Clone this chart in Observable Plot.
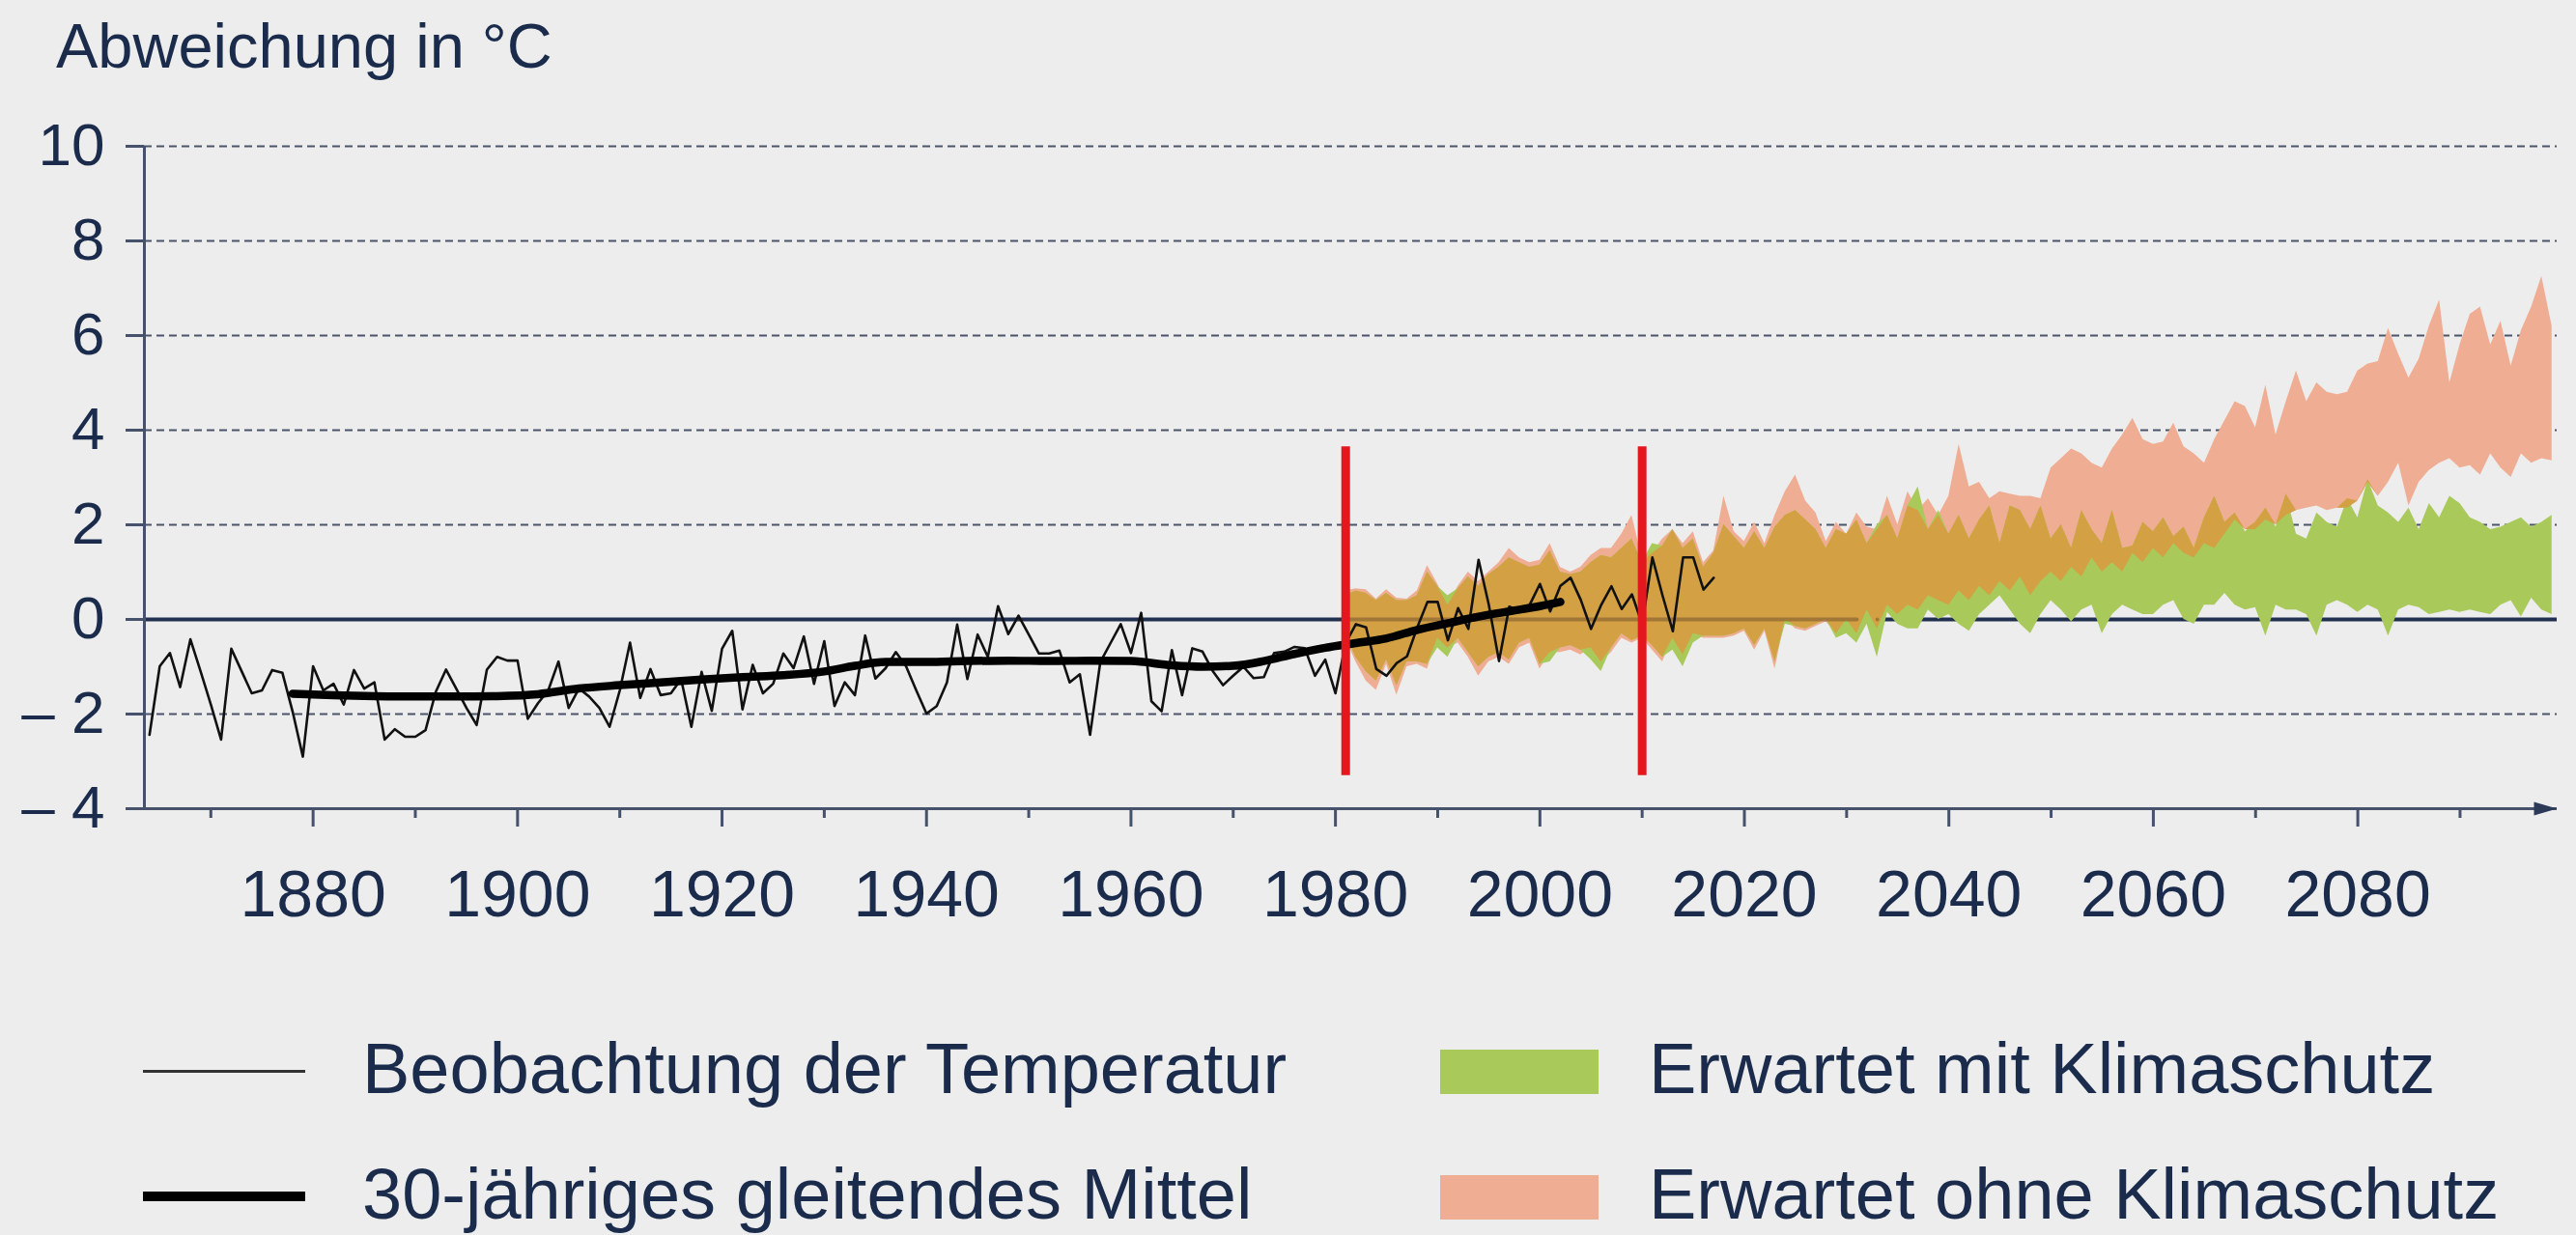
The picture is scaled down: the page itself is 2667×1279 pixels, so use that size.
<!DOCTYPE html>
<html><head><meta charset="utf-8">
<script src="https://cdn.jsdelivr.net/npm/d3@7"></script>
<script src="https://cdn.jsdelivr.net/npm/@observablehq/plot@0.6"></script>
<style>
html,body{margin:0;padding:0;background:#ededed;}
#page{position:relative;width:2667px;height:1279px;background:#ededed;font-family:"Liberation Sans",Arial,sans-serif;color:#1a2b4c;overflow:hidden}
.t{position:absolute;white-space:nowrap;line-height:1}
.sw{position:absolute}
#chart{position:absolute;left:0;top:100px}
</style></head><body><div id="page"><div id="chart"></div></div>
<script>
// ---------- data ----------
const titleText = "Abweichung in °C";
const obsStart = 1864;
const obsValues = [
 -2.44,-0.99,-0.71,-1.43,-0.42,-1.10,-1.80,-2.54,-0.62,-1.09,-1.56,-1.50,-1.07,-1.13,-1.95,-2.90,
 -0.99,-1.50,-1.36,-1.80,-1.07,-1.46,-1.33,-2.54,-2.32,-2.48,-2.48,-2.34,-1.53,-1.06,-1.46,-1.87,-2.23,-1.06,-0.79,-0.87,
 -0.87,-2.10,-1.77,-1.50,-0.89,-1.87,-1.46,-1.63,-1.87,-2.27,-1.50,-0.49,-1.66,-1.05,-1.60,-1.56,-1.26,-2.27,-1.11,-1.93,
 -0.62,-0.24,-1.90,-0.96,-1.56,-1.36,-0.72,-1.03,-0.36,-1.36,-0.46,-1.83,-1.33,-1.60,-0.34,-1.25,-1.03,-0.69,-0.99,-1.50,
 -1.99,-1.83,-1.33,-0.11,-1.26,-0.32,-0.79,0.28,-0.31,0.08,-0.32,-0.72,-0.72,-0.66,-1.33,-1.16,-2.44,-0.90,-0.50,-0.10,
 -0.71,0.14,-1.73,-1.94,-0.65,-1.60,-0.61,-0.68,-1.09,-1.39,-1.19,-1.00,-1.24,-1.22,-0.71,-0.68,-0.58,-0.61,-1.19,-0.85,
 -1.56,-0.50,-0.10,-0.17,-1.05,-1.19,-0.92,-0.78,-0.17,0.37,0.37,-0.44,0.24,-0.20,1.26,0.31,-0.88,0.27,0.17,0.31,
 0.75,0.17,0.71,0.88,0.41,-0.20,0.31,0.70,0.22,0.53,-0.10,1.31,0.50,-0.25,1.31,1.31,0.63,0.88
];
const maYears  = [1878,1882,1886,1890,1894,1898,1902,1906,1910,1914,1918,1922,1926,1930,1933,1936,1940,1944,1948,1952,1956,1960,1964,1967,1970,1973,1976,1979,1982,1985,1988,1991,1994,1997,2000,2002];
const maValues = [-1.57,-1.60,-1.62,-1.63,-1.63,-1.62,-1.58,-1.46,-1.39,-1.33,-1.27,-1.22,-1.18,-1.10,-0.98,-0.90,-0.90,-0.88,-0.87,-0.88,-0.87,-0.88,-0.97,-1.00,-0.98,-0.88,-0.73,-0.60,-0.50,-0.40,-0.22,-0.08,0.06,0.17,0.28,0.37];

const projStart = 1981;
const ohneHi = [
 0.60,0.65,0.63,0.43,0.63,0.45,0.43,0.60,1.14,0.75, 0.30,0.70,1.00,0.80,1.00,1.20,1.50,1.30,1.20,1.25,
 1.60,1.10,1.00,1.10,1.35,1.50,1.50,1.80,2.20,1.30, 1.40,1.70,1.90,1.60,1.85,1.20,1.45,2.60,1.85,1.65,
 2.05,1.60,2.20,2.70,3.05,2.50,2.25,1.65,2.05,
 1.80,2.25,1.95,1.90,2.60,2.00,2.70,2.30,2.55,2.20, 2.60,3.70,2.80,2.90,2.55,2.70,2.65,2.60,2.60,2.55,
 3.20,3.40,3.60,3.50,3.30,3.20,3.60,3.90,4.25,3.80, 3.70,3.75,4.15,3.65,3.50,3.30,3.80,4.20,4.60,4.50,
 4.05,4.95,3.90,4.60,5.25,4.60,5.00,4.80,4.75,4.80, 5.25,5.40,5.45,6.15,5.60,5.10,5.50,6.20,6.75,5.00,
 5.80,6.45,6.60,5.80,6.30,5.35,6.10,6.60,7.25,6.20
];
const ohneLo = [
 -0.40,-0.90,-1.30,-1.50,-0.95,-1.60,-1.00,-0.95,-1.05,-0.40, -0.60,-0.50,-0.80,-1.20,-0.90,-0.80,-0.95,-0.60,-0.50,-1.05,
 -0.70,-0.70,-0.65,-0.75,-0.60,-0.90,-0.70,-0.40,-0.50,-0.40, -0.65,-0.90,-0.40,-0.75,-0.30,-0.40,-0.40,-0.40,-0.35,-0.25,
 -0.65,-0.25,-1.05,0.00,-0.20,-0.25,-0.15,-0.05,-0.30,
 0.00,-0.30,0.20,-0.20,0.30,0.10,0.30,0.20,0.50,0.40, 0.30,0.60,0.40,0.70,0.50,0.80,0.60,0.90,0.50,0.80,
 1.00,0.80,1.10,0.90,1.30,1.00,1.20,1.00,1.40,1.20, 1.50,1.30,1.60,1.40,1.30,1.60,1.50,1.80,2.10,1.90,
 1.90,2.10,2.00,2.20,2.30,2.35,2.40,2.30,2.35,2.35, 2.50,2.90,2.60,2.90,3.30,2.40,2.90,3.15,3.30,3.40,
 3.20,3.25,3.05,3.50,3.20,3.00,3.50,3.30,3.40,3.35
];
const mitHi = [
 0.50,0.60,0.55,0.40,0.55,0.40,0.40,0.50,1.00,0.70, 0.50,0.65,0.90,0.70,0.95,1.10,1.30,1.20,1.10,1.15,
 1.45,1.00,0.95,1.00,1.20,1.35,1.30,1.50,1.70,1.20, 1.60,1.55,1.90,1.50,1.70,1.10,1.40,2.00,1.75,1.50,
 1.85,1.50,1.95,2.20,2.30,2.10,1.90,1.50,1.90,
 1.80,2.10,1.60,2.00,2.20,1.70,2.40,2.80,1.90,2.30, 1.80,2.20,1.70,2.10,2.40,1.60,2.40,2.30,1.90,2.40,
 1.70,2.00,1.50,2.30,1.90,1.60,2.30,1.50,1.55,2.05, 1.85,2.15,1.75,1.95,1.50,2.15,2.60,2.05,2.25,1.85,
 2.05,2.35,1.95,2.65,1.80,1.70,2.25,2.05,1.95,2.55, 2.15,2.95,2.40,2.25,2.05,2.35,1.90,2.45,2.15,2.60,
 2.45,2.15,2.05,1.90,1.95,2.05,2.15,1.95,2.05,2.20
];
const mitLo = [
 -0.30,-0.80,-1.10,-1.30,-0.85,-1.40,-0.90,-0.90,-0.95,-0.60, -0.80,-0.40,-0.70,-1.00,-0.80,-0.70,-0.85,-0.50,-0.40,-0.95,
 -0.90,-0.60,-0.55,-0.65,-0.85,-1.10,-0.60,-0.30,-0.45,-0.35, -0.55,-0.80,-0.65,-1.00,-0.50,-0.35,-0.35,-0.35,-0.30,-0.20,
 -0.55,-0.20,-0.90,-0.10,-0.15,-0.20,-0.10,0.00,-0.40,
 -0.30,-0.50,-0.10,-0.80,0.15,-0.10,-0.20,-0.20,0.20,0.00, 0.10,-0.10,-0.25,0.10,0.30,0.50,0.20,-0.10,-0.30,0.10,
 0.40,0.20,-0.05,0.20,0.30,-0.30,0.10,0.30,0.20,0.10, 0.10,0.30,0.40,0.00,-0.10,0.30,0.30,0.55,0.30,0.20,
 0.25,-0.35,0.30,0.20,0.20,0.10,-0.35,0.30,0.40,0.30, 0.15,0.30,0.20,-0.35,0.20,0.30,0.25,0.10,0.15,0.20,
 0.15,0.20,0.15,0.10,0.30,0.40,0.05,0.45,0.20,0.10
];
const refYears = [1981, 2010];          // red reference-period markers
const refSpan  = [-3.3, 3.65];
const yTicks = [-4, -2, 0, 2, 4, 6, 8, 10];
const gridTicks = [-2, 2, 4, 6, 8, 10];
const xLabelYears = [1880, 1900, 1920, 1940, 1960, 1980, 2000, 2020, 2040, 2060, 2080];
const xMinorYears = [1870, 1890, 1910, 1930, 1950, 1970, 1990, 2010, 2030, 2050, 2070, 2090];
const xDomain = [1863.5, 2099.5];
const yDomain = [-4, 10];
const legendLines = [
  {label: "Beobachtung der Temperatur", width: 3, color: "#333"},
  {label: "30-jähriges gleitendes Mittel", width: 10, color: "#000"}
];
const legendAreas = [
  {label: "Erwartet mit Klimaschutz", color: "#a9c95b"},
  {label: "Erwartet ohne Klimaschutz", color: "#efae94"}
];

// ---------- tables ----------
const navy = "#1a2b4c", axisCol = "#46526b";
const cGreen = "#a9c95b", cSalmon = "#efad93", cOchre = "#d3a144";
const obs = obsValues.map((v, i) => ({year: obsStart + i, v}));
const ma = maYears.map((y, i) => ({year: y, v: maValues[i]}));
const proj = ohneHi.map((h, i) => {
  const lo = Math.max(ohneLo[i], mitLo[i]);
  const hi = Math.min(h, mitHi[i]);
  return {year: projStart + i, oh: h, ol: ohneLo[i], mh: mitHi[i], ml: mitLo[i],
          cl: lo, ch: Math.max(lo, hi)};
});
const arrowHead = {draw(ctx) { ctx.moveTo(0, 0); ctx.lineTo(-24, -7); ctx.lineTo(-24, 7); ctx.closePath(); }};

const chart = Plot.plot({
  width: 2667, height: 900,
  marginLeft: 149, marginRight: 20, marginTop: 51, marginBottom: 163,
  x: {domain: xDomain},
  y: {domain: yDomain},
  style: {fontFamily: "'Liberation Sans', Arial, sans-serif", color: navy, background: "transparent", overflow: "visible"},
  marks: [
    Plot.ruleY(gridTicks, {x1: xDomain[0], x2: xDomain[1], stroke: "#4b5569", strokeWidth: 2.2, strokeDasharray: "8,5"}),
    Plot.ruleY([0], {x1: xDomain[0], x2: xDomain[1], stroke: "#22304f", strokeWidth: 4}),
    Plot.areaY(proj, {x: "year", y1: "ol", y2: "oh", fill: cSalmon}),
    Plot.areaY(proj, {x: "year", y1: "ml", y2: "mh", fill: cGreen}),
    Plot.areaY(proj, {x: "year", y1: "cl", y2: "ch", fill: cOchre}),
    // zero line glimpsed through the overlap band
    Plot.lineY(proj, {x: "year", y: d => (d.ch > d.cl && d.cl <= 0 && d.ch >= 0) ? 0 : NaN, stroke: "#8a6530", strokeOpacity: 0.7, strokeWidth: 4}),
    Plot.ruleY([-4], {x1: xDomain[0], x2: xDomain[1], stroke: axisCol, strokeWidth: 3}),
    Plot.ruleX([xDomain[0]], {y1: yDomain[0], y2: yDomain[1], stroke: axisCol, strokeWidth: 3}),
    Plot.dot([{x: xDomain[1], y: -4}], {x: "x", y: "y", symbol: arrowHead, fill: "#2c3a58"}),
    Plot.axisY({ticks: yTicks, tickSize: 19, tickPadding: 22, fontSize: 62, stroke: axisCol, strokeWidth: 3,
      label: null, tickFormat: d => d < 0 ? "\u2013 " + (-d) : String(d)}),
    Plot.axisX({ticks: xLabelYears, tickSize: 19, tickPadding: 44, fontSize: 68, stroke: axisCol, strokeWidth: 3,
      label: null, tickFormat: d => String(d)}),
    Plot.axisX({ticks: xMinorYears, tickSize: 10, stroke: axisCol, strokeWidth: 3, label: null, tickFormat: () => ""}),
    Plot.lineY(obs, {x: "year", y: "v", stroke: "#111", strokeWidth: 2.6}),
    Plot.lineY(ma, {x: "year", y: "v", stroke: "#000", strokeWidth: 8.5, curve: "monotone-x", strokeLinecap: "round"}),
    Plot.ruleX(refYears, {y1: refSpan[0], y2: refSpan[1], stroke: "#e3171d", strokeWidth: 9})
  ]
});
document.getElementById("chart").appendChild(chart);

// ---------- title & legend ----------
const page = document.getElementById("page");
function addText(txt, left, baseline, size) {
  const d = document.createElement("div");
  d.className = "t"; d.textContent = txt;
  d.style.left = left + "px"; d.style.fontSize = size + "px";
  d.style.top = (baseline - 0.85 * size) + "px";
  page.appendChild(d);
}
function addBox(left, top, w, h, color) {
  const d = document.createElement("div");
  d.className = "sw";
  Object.assign(d.style, {left: left + "px", top: top + "px", width: w + "px", height: h + "px", background: color});
  page.appendChild(d);
}
addText(titleText, 58, 70, 65);
const rowBase = [1133, 1263];
legendLines.forEach((l, i) => {
  addBox(148, rowBase[i] - 24 - l.width / 2, 168, l.width, l.color);
  addText(l.label, 375, rowBase[i], 74);
});
legendAreas.forEach((l, i) => {
  addBox(1491, rowBase[i] - 46, 164, 46, l.color);
  addText(l.label, 1707, rowBase[i], 74);
});
</script></body></html>
